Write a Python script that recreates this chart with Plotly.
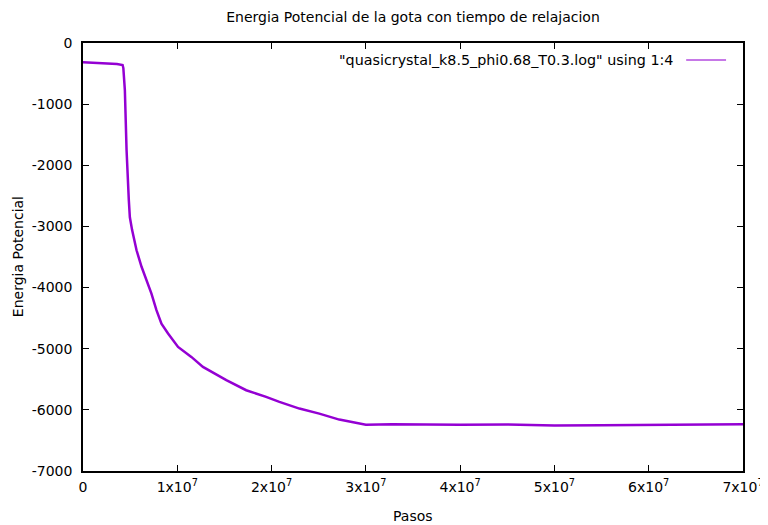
import plotly.graph_objects as go

# Steps (Pasos) and potential energy
pasos = [0, 1.0e6, 2.0e6, 3.0e6, 3.6e6, 4.20e6, 4.28e6, 4.44e6, 4.62e6, 4.86e6,
         4.97e6, 5.21e6, 5.68e6, 6.21e6, 6.74e6, 7.26e6, 7.79e6, 8.32e6,
         9.02e6, 1.008e7, 1.149e7, 1.272e7, 1.52e7, 1.731e7, 1.942e7,
         2.083e7, 2.295e7, 2.506e7, 2.718e7, 2.894e7, 3.0e7, 3.278e7,
         3.563e7, 4.0e7, 4.5e7, 5.0e7, 5.5e7, 6.0e7, 6.5e7, 7.0e7]
energia = [-316, -322, -330, -340, -345, -360, -410, -770, -1750, -2570,
           -2850, -3060, -3390, -3660, -3880, -4100, -4370, -4590,
           -4750, -4970, -5134, -5297, -5515, -5679, -5788,
           -5870, -5979, -6061, -6159, -6214, -6245, -6235,
           -6240, -6245, -6240, -6255, -6250, -6245, -6240, -6235]

x_ticks = [0, 1e7, 2e7, 3e7, 4e7, 5e7, 6e7, 7e7]
x_ticktext = ["0", "1x10<sup>7</sup>", "2x10<sup>7</sup>", "3x10<sup>7</sup>",
              "4x10<sup>7</sup>", "5x10<sup>7</sup>", "6x10<sup>7</sup>",
              "7x10<sup>7</sup>"]
y_ticks = [0, -1000, -2000, -3000, -4000, -5000, -6000, -7000]
y_ticktext = ["0", "-1000", "-2000", "-3000", "-4000", "-5000", "-6000", "-7000"]

title = "Energia Potencial de la gota con tiempo de relajacion"
legend_label = '"quasicrystal_k8.5_phi0.68_T0.3.log" using 1:4'
color = "#9400d3"
font = dict(family="DejaVu Sans", size=14, color="black")

# page body has an 8px margin; figure is laid out so the plot box lands
# at x 83..745, y 43..471 of the window
OFF = 8
W, H = 768, 525
L, R, T, B = 83 - OFF, W - (745 - OFF), 43 - OFF, H - (471 - OFF)
PW, PH = 745 - 83, 471 - 43

fig = go.Figure()
fig.add_trace(go.Scatter(x=pasos, y=energia, mode="lines",
                         line=dict(color=color, width=2.5), showlegend=False))

fig.update_layout(
    width=W, height=H,
    margin=dict(l=L, r=R, t=T, b=B),
    paper_bgcolor="white", plot_bgcolor="white",
    font=font,
    title=dict(text=title, x=0.5, xref="paper", y=1 - (17 - OFF) / H,
               yanchor="middle", xanchor="center", font=font),
    showlegend=False,
)
fig.update_xaxes(range=[0, 7e7], tickvals=x_ticks, ticktext=x_ticktext,
                 ticks="inside", ticklen=6, tickcolor="black", tickwidth=1,
                 showline=True, linecolor="black", linewidth=1.5,
                 mirror="allticks", showgrid=False, zeroline=False,
                 tickfont=font, ticklabelstandoff=2)
fig.update_yaxes(range=[-7000, 0], tickvals=y_ticks, ticktext=y_ticktext,
                 ticks="inside", ticklen=6, tickcolor="black", tickwidth=1,
                 showline=True, linecolor="black", linewidth=1.5,
                 mirror="allticks", showgrid=False, zeroline=False,
                 tickfont=font, ticklabelstandoff=6)

# axis titles
fig.add_annotation(text="Pasos", xref="paper", yref="paper", x=0.5,
                   y=-(516 - 471) / PH, yanchor="middle", showarrow=False,
                   font=font)
fig.add_annotation(text="Energia Potencial", xref="paper", yref="paper",
                   x=-(83 - 18) / PW, xanchor="center", y=0.5,
                   yanchor="middle", textangle=-90, showarrow=False, font=font)

# gnuplot-style key: text then line sample on the right
fig.add_annotation(text=legend_label, xref="paper", yref="paper",
                   x=(677 - 83) / PW, xanchor="right",
                   y=1 - (60 - 43) / PH, yanchor="middle",
                   showarrow=False, font=dict(family="DejaVu Sans", size=14.3,
                                              color="black"))
fig.add_shape(type="line", xref="paper", yref="paper",
              x0=(688 - 83) / PW, x1=(728 - 83) / PW,
              y0=1 - (60 - 43) / PH, y1=1 - (60 - 43) / PH,
              line=dict(color=color, width=1.5), opacity=0.7)

fig.write_html("out.html")
